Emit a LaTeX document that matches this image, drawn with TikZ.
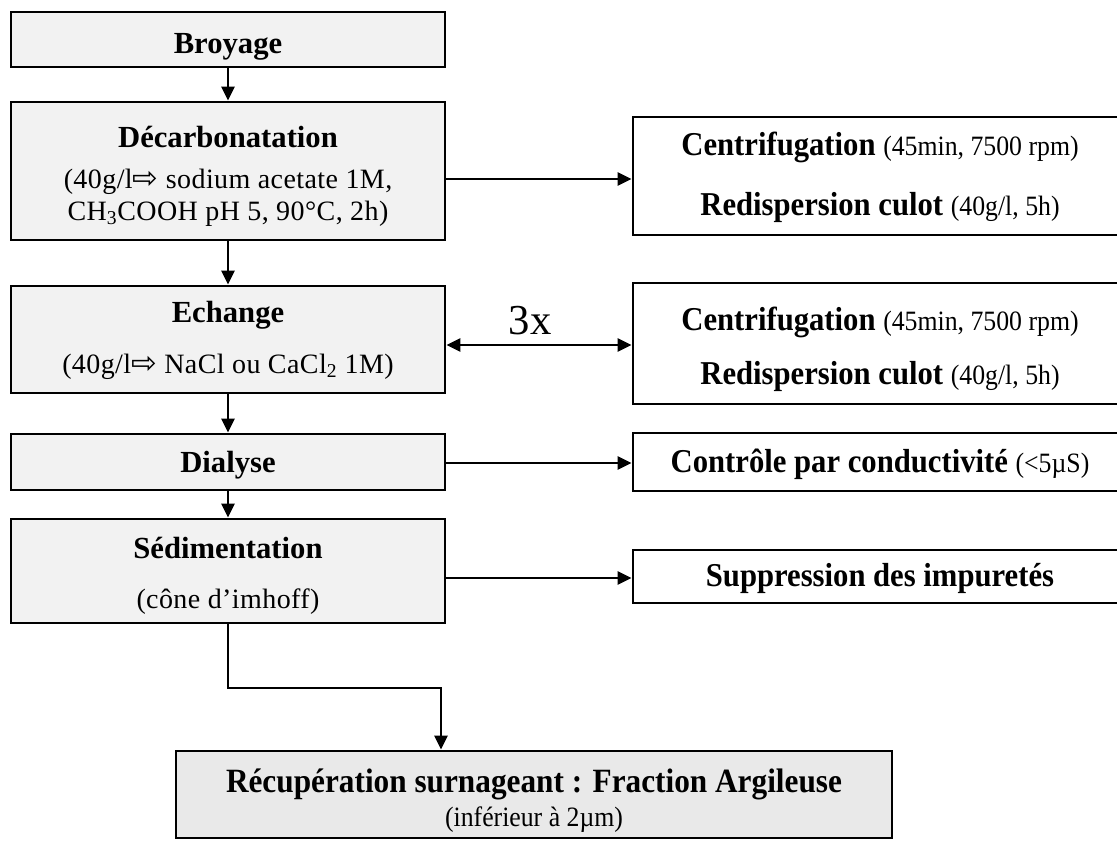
\documentclass[tikz,border=0pt]{standalone}
\usepackage{fontspec}
\setmainfont{Liberation Serif}
\newfontfamily\lsp[LetterSpace=1.5]{Liberation Serif}
\newfontfamily\cnd[FakeStretch=0.92]{Liberation Serif}
\newfontfamily\arrfont{DejaVu Sans}
\usetikzlibrary{arrows.meta}
\definecolor{boxgray}{HTML}{F2F2F2}
\definecolor{fingray}{HTML}{E9E9E9}
\newcommand{\warr}{{\arrfont\fontsize{23}{23}\selectfont\char"21E8}}
\newcommand{\rtail}[1]{{\fontsize{21}{24}\cnd #1}}
\begin{document}
\begin{tikzpicture}[x=0.75pt,y=-0.75pt,
  lbox/.style={draw, line width=2.2pt, fill=boxgray, inner sep=0pt, minimum width=325.5pt},
  rbox/.style={draw, line width=2.2pt, fill=white, inner sep=0pt, minimum width=365.25pt},
  fbox/.style={draw, line width=2.2pt, fill=fingray, inner sep=0pt},
  conn/.style={line width=1.4pt, -{Triangle[length=10.5pt,width=10pt]}},
  dconn/.style={line width=1.4pt, {Triangle[length=10.5pt,width=10pt]}-{Triangle[length=10.5pt,width=10pt]}},
  ttl/.style={anchor=base, inner sep=0pt, font=\fontsize{23}{26}\selectfont\bfseries},
  txt/.style={anchor=base, inner sep=0pt, font=\fontsize{21}{24}\lsp},
  rtxt/.style={anchor=base, inner sep=0pt, font=\fontsize{25}{28}\cnd},
  ftl/.style={anchor=base, inner sep=0pt, font=\fontsize{25.5}{28}\cnd\bfseries},
  lbl/.style={anchor=base, inner sep=0pt, font=\fontsize{32}{34}\selectfont}]
\useasboundingbox (0,0) rectangle (1117,840);

% left column boxes
\node[lbox, minimum height=41.25pt] (broy) at (228,39.5) {};
\node[lbox, minimum height=103.5pt] (dec) at (228,171) {};
\node[lbox, minimum height=80.25pt] (ech) at (228,339.5) {};
\node[lbox, minimum height=42pt] (dia) at (228,462) {};
\node[lbox, minimum height=78pt] (sed) at (228,571) {};
\node[fbox, minimum width=537pt, minimum height=65.25pt] (fin) at (534,794.5) {};

% right column boxes
\node[rbox, minimum height=88.5pt] (r1) at (876.5,176) {};
\node[rbox, minimum height=90.75pt] (r2) at (876.5,343.5) {};
\node[rbox, minimum height=43.5pt] (ctl) at (876.5,462) {};
\node[rbox, minimum height=39.75pt] (sup) at (876.5,576.5) {};

% texts left
\node[ttl] (tbroy) at (228,53) {Broyage};
\node[ttl] (tdec) at (228,147) {Décarbonatation};
\node[txt] (tdec2) at (228,188) {(40g/l\warr\ sodium acetate 1M,};
\node[txt] (tdec3) at (228,220) {CH\textsubscript{3}COOH pH 5, 90°C, 2h)};
\node[ttl] (tech) at (228,322) {Echange};
\node[txt] (tech2) at (228,373) {(40g/l\warr\ NaCl ou CaCl\textsubscript{2} 1M)};
\node[ttl] (tdia) at (228,472) {Dialyse};
\node[ttl] (tsed) at (228,558) {Sédimentation};
\node[txt] (tsed2) at (228,608) {(cône d’imhoff)};

% final
\node[ftl] (tfin) at (534,792) {Récupération surnageant : Fraction Argileuse};
\node[anchor=base, inner sep=0pt, font=\fontsize{21}{24}\cnd] (tfin2) at (534,826) {(inférieur à 2µm)};

% texts right
\node[rtxt] (tr1a) at (880,155) {\textbf{Centrifugation} \rtail{(45min, 7500 rpm)}};
\node[rtxt] (tr1b) at (880,215) {\textbf{Redispersion culot} \rtail{(40g/l, 5h)}};
\node[rtxt] (tr2a) at (880,330) {\textbf{Centrifugation} \rtail{(45min, 7500 rpm)}};
\node[rtxt] (tr2b) at (880,384) {\textbf{Redispersion culot} \rtail{(40g/l, 5h)}};
\node[rtxt] (tctl) at (880,472) {\textbf{Contrôle par conductivité} \rtail{(<5µS)}};
\node[rtxt] (tsup) at (880,586) {\textbf{Suppression des impuretés}};

\node[lbl] (three) at (530,334) {3x};

% connectors
\draw[conn] (broy.south) -- (dec.north);
\draw[conn] (dec.south) -- (ech.north);
\draw[conn] (ech.south) -- (dia.north);
\draw[conn] (dia.south) -- (sed.north);
\coordinate (k) at (441,688);
\draw[conn] (sed.south) |- (k) -- (k |- fin.north);

\coordinate (a1) at (0,179);
\coordinate (a2) at (0,345);
\coordinate (a3) at (0,463);
\coordinate (a4) at (0,578);
\draw[conn] (dec.east |- a1) -- (r1.west |- a1);
\draw[dconn] (ech.east |- a2) -- (r2.west |- a2);
\draw[conn] (dia.east |- a3) -- (ctl.west |- a3);
\draw[conn] (sed.east |- a4) -- (sup.west |- a4);
\end{tikzpicture}
\end{document}
